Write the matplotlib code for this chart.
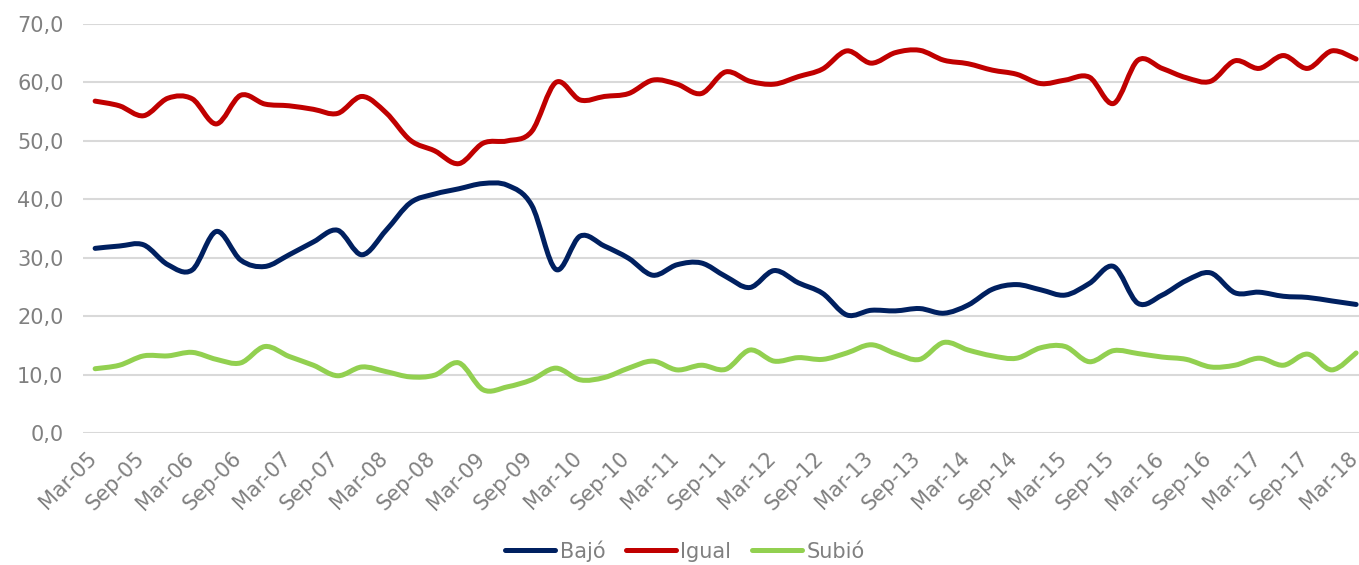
import matplotlib
matplotlib.use("Agg")
import matplotlib.pyplot as plt
import matplotlib.transforms as mtransforms
from matplotlib.path import Path
from matplotlib.patches import PathPatch
from matplotlib.lines import Line2D
import numpy as np

# ---- data (quarterly, Mar-05 .. Mar-18) ----
years = list(range(5, 19))
quarter_labels = []
for y in years:
    for m in ["Mar", "Jun", "Sep", "Dec"]:
        quarter_labels.append(f"{m}-{y:02d}")
quarter_labels = quarter_labels[: quarter_labels.index("Mar-18") + 1]

bajo = [31.6, 32.0, 32.2, 28.8, 27.9, 34.5, 29.6, 28.5, 30.5, 32.7,
        34.7, 30.5, 34.7, 39.4, 40.9, 41.8, 42.7, 42.4, 39.0, 28.0,
        33.7, 32.0, 29.9, 27.0, 28.8, 29.1, 26.8, 24.9, 27.8, 25.7,
        23.9, 20.2, 21.0, 20.9, 21.3, 20.5, 21.9, 24.6, 25.4, 24.5,
        23.6, 25.6, 28.5, 22.2, 23.6, 26.1, 27.4, 24.0, 24.1, 23.4,
        23.2, 22.6, 22.0]
igual = [56.8, 56.0, 54.3, 57.3, 57.2, 52.9, 57.8, 56.3, 56.0, 55.4,
         54.7, 57.6, 54.8, 50.1, 48.3, 46.1, 49.6, 50.0, 51.6, 60.0,
         57.0, 57.6, 58.1, 60.4, 59.7, 58.1, 61.8, 60.2, 59.7, 61.0,
         62.3, 65.4, 63.3, 65.1, 65.5, 63.8, 63.2, 62.1, 61.4, 59.8,
         60.4, 60.9, 56.4, 63.8, 62.4, 60.8, 60.2, 63.7, 62.4, 64.6,
         62.4, 65.4, 64.0]
subio = [11.0, 11.6, 13.2, 13.2, 13.8, 12.6, 12.0, 14.8, 13.1, 11.6,
         9.8, 11.3, 10.5, 9.6, 9.9, 12.0, 7.4, 7.9, 9.1, 11.1,
         9.1, 9.5, 11.1, 12.3, 10.8, 11.6, 10.9, 14.2, 12.3, 12.9,
         12.6, 13.7, 15.1, 13.6, 12.6, 15.5, 14.2, 13.2, 12.8, 14.6,
         14.8, 12.2, 14.1, 13.6, 13.0, 12.6, 11.3, 11.6, 12.8, 11.6,
         13.5, 10.8, 13.7]
series_names = ["Bajó", "Igual", "Subió"]
series_colors = ["#002060", "#C00000", "#92D050"]
yticks = [0, 10, 20, 30, 40, 50, 60, 70]

plt.rcParams["font.family"] = ["DejaVu Sans"]
W, H = 1359, 565
fig = plt.figure(figsize=(W / 100, H / 100), dpi=100)

left = 83 / W
bottom = (H - 433) / H
height = 409 / H
width = 53 * 24.25 / W
ax = fig.add_axes([left, bottom, width, height])

n = len(quarter_labels)
x = np.arange(n)


def smooth_path(xs, ys):
    # Excel-like smoothed line: cubic Bezier through the points
    pts = np.column_stack([xs, ys]).astype(float)
    verts = [pts[0]]
    codes = [Path.MOVETO]
    for i in range(len(pts) - 1):
        p0 = pts[i - 1] if i > 0 else pts[i]
        p1 = pts[i]
        p2 = pts[i + 1]
        p3 = pts[i + 2] if i + 2 < len(pts) else pts[i + 1]
        c1 = p1 + (p2 - p0) / 6.0
        c2 = p2 - (p3 - p1) / 6.0
        verts += [c1, c2, p2]
        codes += [Path.CURVE4] * 3
    return Path(verts, codes)


for vals, col in zip([bajo, igual, subio], series_colors):
    patch = PathPatch(smooth_path(x, vals), facecolor="none", edgecolor=col,
                      lw=3.6, capstyle="round", joinstyle="round", zorder=3)
    ax.add_patch(patch)

ax.set_xlim(-0.5, n - 0.5)
ax.set_ylim(0, 70)
ax.set_yticks(yticks)
ax.set_yticklabels([f"{v:.1f}".replace(".", ",") for v in yticks])
ax.yaxis.grid(True, color="#d9d9d9", lw=1.5)
ax.set_axisbelow(True)
for s in ax.spines.values():
    s.set_visible(False)

tick_idx = list(range(0, n, 2))
ax.set_xticks(tick_idx)
ax.set_xticklabels([quarter_labels[i] for i in tick_idx], rotation=45,
                   ha="right", va="top", rotation_mode="anchor")
ax.tick_params(axis="both", length=0, colors="#808080", labelsize=15)
ax.tick_params(axis="y", pad=14)
ax.tick_params(axis="x", pad=11)
shift = mtransforms.ScaledTranslation(-9 / 100, 0, fig.dpi_scale_trans)
for lbl in ax.get_xticklabels():
    lbl.set_transform(lbl.get_transform() + shift)

handles = [Line2D([], [], color=c, lw=3.6, solid_capstyle="round") for c in series_colors]
leg = fig.legend(handles, series_names, loc="center",
                 bbox_to_anchor=(685 / W, 1 - 551 / H), ncol=3, frameon=False,
                 fontsize=15, handlelength=2.4, handletextpad=0.2,
                 columnspacing=1.0)
for t in leg.get_texts():
    t.set_color("#808080")

fig.savefig("out.png", dpi=100)
